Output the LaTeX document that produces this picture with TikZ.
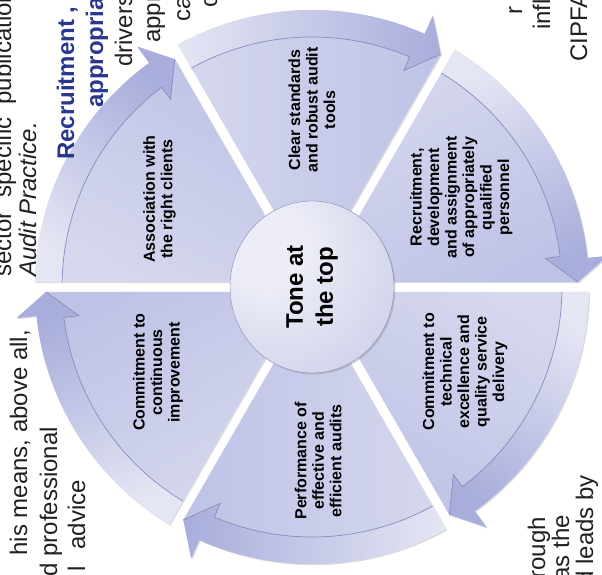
\documentclass[tikz,border=0pt]{standalone}
\usepackage{fontspec}
\setmainfont{Liberation Sans}
\usetikzlibrary{shadows,shapes.geometric,calc}
\definecolor{tailc}{RGB}{229,230,244}
\definecolor{headc}{RGB}{168,173,219}
\definecolor{wtail}{RGB}{214,216,238}
\definecolor{whead}{RGB}{190,194,229}
\definecolor{linec}{RGB}{135,140,188}
\definecolor{headblue}{RGB}{40,56,140}
\definecolor{ballhi}{RGB}{236,237,247}
\definecolor{ballmid}{RGB}{206,209,234}
\definecolor{ballout}{RGB}{170,174,214}
\definecolor{bodyc}{RGB}{35,31,32}
\pgfdeclareradialshading{tonesh}{\pgfpoint{-16bp}{14bp}}{color(0bp)=(ballhi); color(12bp)=(ballhi); color(40bp)=(ballmid); color(68bp)=(ballout); color(80bp)=(ballout)}
\tikzset{
  bodytxt/.style={rotate=90, inner sep=0pt, text=bodyc, font=\fontsize{24}{28}\selectfont},
  bodyit/.style={rotate=90, inner sep=0pt, text=bodyc, font=\itshape\fontsize{24}{28}\selectfont},
  bluetxt/.style={rotate=90, inner sep=0pt, text=headblue, font=\bfseries\fontsize{24}{28}\selectfont},
  segtxt/.style={rotate=90, align=center, inner sep=0pt, text=black, font=\bfseries\fontsize{16}{17.5}\selectfont},
  segshadow/.style={drop shadow={opacity=0.28, shadow xshift=1.2pt, shadow yshift=-1.2pt}}
}
\begin{document}
\begin{tikzpicture}[x=1pt,y=1pt]
\useasboundingbox (0,0) rectangle (602,575);
\clip (0,0) rectangle (602,575);
\coordinate (C) at (312,288);

% ---------- cycle segments ----------
\begin{scope}[shift={(C)}]
\foreach \S/\E in {180/120, 120/60, 60/0, 0/-60, -60/-120, 240/180}{
  \pgfmathsetmacro{\shang}{(\S+\E)/2-180}
  % wedge with arrow outline
  \path[segshadow, bottom color=wtail, top color=whead, shading angle=\shang]
    ({\S-asin(5/60)}:60) -- ({\S-asin(5/277)}:277)
    arc[start angle={\S-asin(5/277)}, end angle={\E+6}, radius=277]
    -- ({\E+6}:297) -- ({\E+asin(5/266)}:266) -- ({\E+asin(5/60)}:60)
    arc[start angle={\E+asin(5/60)}, end angle={\S-asin(5/60)}, radius=60] -- cycle;
  % outer arrow band
  \path[bottom color=tailc, top color=headc, shading angle=\shang]
    ({\S-asin(5/250)}:250) -- ({\S-asin(5/277)}:277)
    arc[start angle={\S-asin(5/277)}, end angle={\E+6}, radius=277]
    -- ({\E+6}:297) -- ({\E+asin(5/266)}:266) -- ({\E+7}:235) -- ({\E+7}:250)
    arc[start angle={\E+7}, end angle={\S-asin(5/250)}, radius=250] -- cycle;
  \draw[linec, line width=0.7pt]
    ({\S-asin(5/250)}:250) arc[start angle={\S-asin(5/250)}, end angle={\E+7}, radius=250]
    -- ({\E+7}:235) -- ({\E+asin(5/266)}:266);
}
\end{scope}

% ---------- centre ----------
\node[ellipse, rotate=90, minimum width=172, minimum height=164, inner sep=0pt,
      shade, shading=tonesh, draw=ballout!80!black, line width=0.4pt,
      drop shadow={opacity=0.3, shadow xshift=1.5pt, shadow yshift=-1.5pt},
      align=center, font=\bfseries\fontsize{24}{30}\selectfont] (tone) at (C) {Tone at\\the top};

% ---------- segment texts ----------
\node[segtxt] (s1) at ($(C)+(150:176)$) {Association with\\the right clients};
\node[segtxt] (s2) at ($(C)+(90:177)$) {Clear standards\\and robust audit\\tools};
\node[segtxt] (s3) at ($(C)+(31:174)$) {Recruitment,\\development\\and assignment\\of appropriately\\qualified\\personnel};
\node[segtxt] (s4) at ($(C)+(-29:175)$) {Commitment to\\technical\\excellence and\\quality service\\delivery};
\node[segtxt] (s5) at ($(C)+(-88:174)$) {Performance of\\effective and\\efficient audits};
\node[segtxt] (s6) at ($(C)+(-151:176)$) {Commitment to\\continuous\\improvement};

% ---------- surrounding page text ----------
\node[bodytxt, anchor=base west] (p1) at (11,298) {sector\hspace{14pt}specific\hspace{13pt}publication};
\node[bodyit, anchor=base west] (p2) at (36,298) {Audit Practice.};
\node[bluetxt, anchor=base west] (p3) at (74,415) {Recruitment ,};
\node[bluetxt, anchor=base west] (p4) at (103,467) {appropria};
\node[bodytxt, anchor=base west] (p5) at (132,508) {drivers};
\node[bodytxt, anchor=base west] (p6) at (160,532) {appr};
\node[bodytxt, anchor=base west] (p7) at (190,553) {ca};
\node[bodytxt, anchor=base west] (p8) at (217,567) {c};
\node[bodytxt, anchor=base west] (p9) at (522,560) {r};
\node[bodytxt, anchor=base west] (p10) at (550,545) {infl};
\node[bodytxt, anchor=base west] (p11) at (587,513) {CIPFA};
\node[bodytxt, anchor=base east] (p12) at (545,58) {rough};
\node[bodytxt, anchor=base east] (p13) at (569,60) {as the};
\node[bodytxt, anchor=base east] (p14) at (593,100) {nd leads by};
\node[bodytxt, anchor=base east] (p15) at (27,245) {his means, above all,};
\node[bodytxt, anchor=base east] (p16) at (57,148) {d professional};
\node[bodytxt, anchor=base east] (p17) at (85,95) {l\hspace{17pt}advice};
\end{tikzpicture}
\end{document}
